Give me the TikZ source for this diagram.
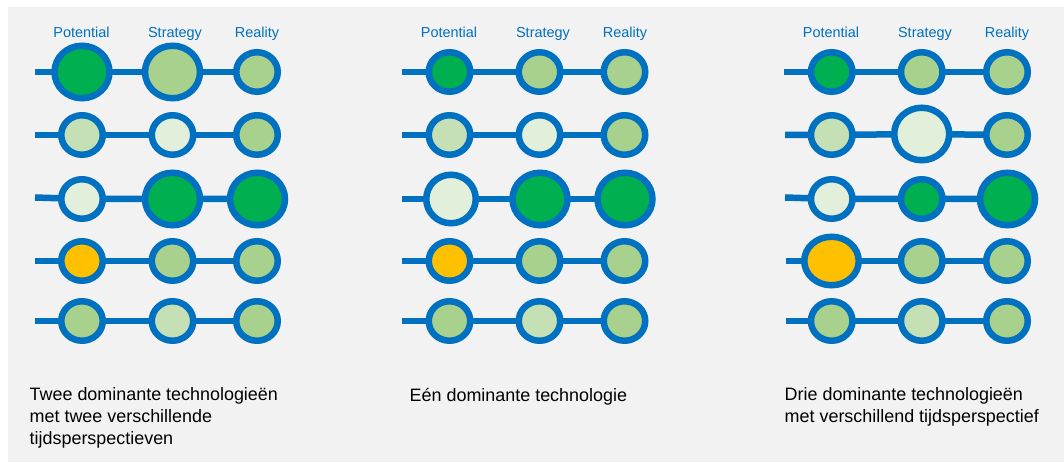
\documentclass[tikz,border=0pt]{standalone}
\usepackage{fontspec}
\setmainfont{Liberation Sans}
\usetikzlibrary{shapes.geometric}
\definecolor{bgray}{HTML}{F2F2F2}
\definecolor{lineblue}{HTML}{0070C0}
\definecolor{dgreen}{HTML}{00B050}
\definecolor{mgreen}{HTML}{A9D18E}
\definecolor{lgreen}{HTML}{C5E0B4}
\definecolor{vlgreen}{HTML}{E2EFDA}
\definecolor{amber}{HTML}{FFC000}
\pgfdeclarelayer{back}
\pgfdeclarelayer{links}
\pgfsetlayers{back,links,main}
\tikzset{
  tech/.style={ellipse, draw=lineblue, line width=6.5bp, inner sep=0pt, outer sep=0pt,
    minimum width=41.5bp, minimum height=39.5bp},
  big/.style={minimum width=55bp, minimum height=52.5bp},
  mid/.style={minimum width=49.5bp, minimum height=48.5bp},
  wide/.style={minimum width=54.5bp, minimum height=48.5bp},
  dg/.style={tech, fill=dgreen},
  mg/.style={tech, fill=mgreen},
  lg/.style={tech, fill=lgreen},
  vl/.style={tech, fill=vlgreen},
  yl/.style={tech, fill=amber},
  link/.style={draw=lineblue, line width=6.5bp, line join=round},
  hdr/.style={text=lineblue, anchor=base, inner sep=0pt, font=\fontsize{14.5}{17}\selectfont},
  caption/.style={anchor=north west, inner sep=0pt, align=left, text=black,
    font=\fontsize{18}{21.6}\selectfont}
}
\begin{document}
\begin{tikzpicture}[x=1bp,y=-1bp]
\useasboundingbox (0,0) rectangle (1064,463);
\begin{pgfonlayer}{back}
  \fill[bgray] (8,7) rectangle (1064,462);
\end{pgfonlayer}

% ---------- headers ----------
\node[hdr] (ha1) at (81.5,37.7) {Potential};
\node[hdr] (ha2) at (175,37.7) {Strategy};
\node[hdr] (ha3) at (257,37.7) {Reality};
\node[hdr] (hb1) at (449,37.7) {Potential};
\node[hdr] (hb2) at (543,37.7) {Strategy};
\node[hdr] (hb3) at (625,37.7) {Reality};
\node[hdr] (hc1) at (831,37.7) {Potential};
\node[hdr] (hc2) at (925,37.7) {Strategy};
\node[hdr] (hc3) at (1007,37.7) {Reality};

% ---------- panel 1 ----------
\node[dg,big] (aP1) at (82,72) {};
\node[mg,big] (aS1) at (172.5,72) {};
\node[mg] (aR1) at (257,72) {};
\node[lg] (aP2) at (82,135) {};
\node[vl] (aS2) at (172.5,135) {};
\node[mg] (aR2) at (257,135) {};
\node[vl] (aP3) at (82,199) {};
\node[dg,big] (aS3) at (172.5,199) {};
\node[dg,big] (aR3) at (257.5,199) {};
\node[yl] (aP4) at (82,261) {};
\node[mg] (aS4) at (172.5,261) {};
\node[mg] (aR4) at (257,261) {};
\node[mg] (aP5) at (82,321) {};
\node[lg] (aS5) at (172.5,321) {};
\node[mg] (aR5) at (257,321) {};
\coordinate (a1) at (35,72);
\coordinate (a2) at (35,135);
\coordinate (a3) at (35,197.5);
\coordinate (a4) at (35,261);
\coordinate (a5) at (35,321);

% ---------- panel 2 ----------
\node[dg] (bP1) at (449.5,72) {};
\node[mg] (bS1) at (539.5,72) {};
\node[mg] (bR1) at (624.5,72) {};
\node[lg] (bP2) at (449.5,135) {};
\node[vl] (bS2) at (539.5,135) {};
\node[mg] (bR2) at (624.5,135) {};
\node[vl,mid] (bP3) at (451,199) {};
\node[dg,big] (bS3) at (540,199) {};
\node[dg,big] (bR3) at (625,199) {};
\node[yl] (bP4) at (449.5,261) {};
\node[mg] (bS4) at (539.5,261) {};
\node[mg] (bR4) at (624.5,261) {};
\node[mg] (bP5) at (449.5,321) {};
\node[lg] (bS5) at (539.5,321) {};
\node[mg] (bR5) at (624.5,321) {};
\coordinate (b1) at (402,72);
\coordinate (b2) at (402,135);
\coordinate (b3) at (402,199);
\coordinate (b4) at (402,261);
\coordinate (b5) at (402,321);

% ---------- panel 3 ----------
\node[dg] (cP1) at (831.7,72) {};
\node[mg] (cS1) at (921.7,72) {};
\node[mg] (cR1) at (1007,72) {};
\node[lg] (cP2) at (831.7,135) {};
\node[vl,big] (cS2) at (921.7,134) {};
\node[mg] (cR2) at (1007,135) {};
\node[vl] (cP3) at (831.7,199) {};
\node[dg] (cS3) at (921.7,199) {};
\node[dg,big] (cR3) at (1007.5,199) {};
\node[yl,wide] (cP4) at (831.5,261) {};
\node[mg] (cS4) at (921.7,261) {};
\node[mg] (cR4) at (1007,261) {};
\node[mg] (cP5) at (831.7,321) {};
\node[lg] (cS5) at (921.7,321) {};
\node[mg] (cR5) at (1007,321) {};
\coordinate (c1) at (784,72);
\coordinate (c2) at (785,135);
\coordinate (c3) at (785,197.5);
\coordinate (c4) at (786,261);
\coordinate (c5) at (786,321);

% ---------- connectors ----------
\begin{pgfonlayer}{links}
\foreach \p in {a,b,c}{
  \foreach \r in {1,...,5}{
    \draw[link] (\p\r) -- (\p P\r.center) -- (\p S\r.center) -- (\p R\r.center);
  }
}
\end{pgfonlayer}

% ---------- captions ----------
\node[caption] (ta) at (29.5,387.8) {Twee dominante technologieën\\met twee verschillende\\tijdsperspectieven};
\node[caption] (tb) at (409.5,387.8) {Eén dominante technologie};
\node[caption] (tc) at (784.5,387.8) {Drie dominante technologieën\\met verschillend tijdsperspectief};
\end{tikzpicture}
\end{document}
